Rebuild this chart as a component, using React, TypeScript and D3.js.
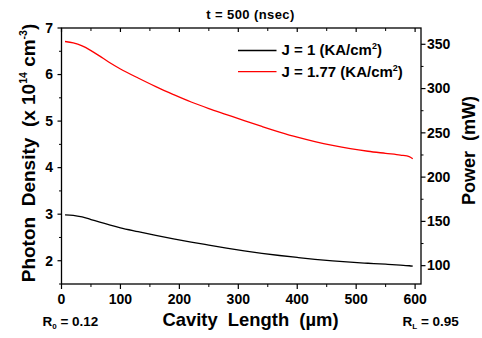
import React from "react";
import * as d3 from "d3";

const cavityLength = [6, 20, 35, 50, 65, 80, 100, 130, 160, 190, 220, 250, 280, 310, 340, 370, 400, 430, 460, 490, 520, 550, 575, 590, 596];
const densityJ1 = [2.985, 2.975, 2.94, 2.885, 2.828, 2.774, 2.707, 2.625, 2.545, 2.47, 2.4, 2.335, 2.272, 2.213, 2.16, 2.112, 2.07, 2.031, 1.997, 1.968, 1.946, 1.926, 1.907, 1.892, 1.882];
const densityJ177 = [6.71, 6.68, 6.615, 6.515, 6.395, 6.27, 6.12, 5.925, 5.74, 5.57, 5.41, 5.27, 5.14, 5.01, 4.885, 4.765, 4.655, 4.56, 4.478, 4.408, 4.352, 4.307, 4.27, 4.238, 4.19];
const xTicks = [0, 100, 200, 300, 400, 500, 600];
const leftTicks = [2, 3, 4, 5, 6, 7];
const rightTicks = [100, 150, 200, 250, 300, 350];

const W = 482, H = 338;
const L = 61.5, R = 421, T = 28, B = 284;
const FONT = "'Liberation Sans', Arial, sans-serif";

export default function App() {
  const x = d3.scaleLinear().domain([0, 610]).range([L, R]);
  const yL = d3.scaleLinear().domain([1.5, 7]).range([B, T]);
  const yR = d3.scaleLinear().domain([79.3, 368.4]).range([B, T]);
  const line = d3.line<[number, number]>().x(d => x(d[0])).y(d => yL(d[1])).curve(d3.curveCatmullRom.alpha(0.5));
  const black = line(cavityLength.map((c, i) => [c, densityJ1[i]]));
  const red = line(cavityLength.map((c, i) => [c, densityJ177[i]]));

  const xMinor = d3.range(50, 601, 100);
  const lMinor = d3.range(1.5, 7.01, 1);
  const rMinor = d3.range(125, 368, 50);

  return (
    <svg width={W} height={H} style={{ position: "absolute", left: 0, top: 0, background: "#fff" }} fontFamily={FONT} fontWeight="bold">
      <rect x={0} y={0} width={W} height={H} fill="#fff" />
      {/* title */}
      <text x={250.5} y={18.5} textAnchor="middle" fontSize={13} letterSpacing={0.4} style={{ whiteSpace: "pre" }}>t = 500 (nsec)</text>
      {/* frame */}
      <rect x={L} y={T} width={R - L} height={B - T} fill="none" stroke="#000" strokeWidth={1.3} />
      {/* bottom / top ticks */}
      {xTicks.map(t => <line key={"xb" + t} x1={x(t)} x2={x(t)} y1={B} y2={B + 5} stroke="#000" strokeWidth={1.2} />)}
      {xMinor.map(t => <line key={"xbm" + t} x1={x(t)} x2={x(t)} y1={B} y2={B + 3} stroke="#000" strokeWidth={1} />)}
      {xTicks.map(t => <line key={"xt" + t} x1={x(t)} x2={x(t)} y1={T} y2={T + 4} stroke="#000" strokeWidth={1.2} />)}
      {xMinor.map(t => <line key={"xtm" + t} x1={x(t)} x2={x(t)} y1={T} y2={T + 3} stroke="#000" strokeWidth={1} />)}
      {xTicks.map(t => <text key={"xl" + t} x={x(t)} y={304} textAnchor="middle" fontSize={14}>{t}</text>)}
      {/* left ticks */}
      {leftTicks.map(t => <line key={"l" + t} x1={L - 4} x2={L} y1={yL(t)} y2={yL(t)} stroke="#000" strokeWidth={1.2} />)}
      {lMinor.map(t => <line key={"lm" + t} x1={L - 2.5} x2={L} y1={yL(t)} y2={yL(t)} stroke="#000" strokeWidth={1} />)}
      {leftTicks.map(t => <text key={"ll" + t} x={53} y={yL(t) + 4.8} textAnchor="end" fontSize={14}>{t}</text>)}
      {/* right ticks */}
      {rightTicks.map(t => <line key={"r" + t} x1={R} x2={R + 4.5} y1={yR(t)} y2={yR(t)} stroke="#000" strokeWidth={1.2} />)}
      {rMinor.map(t => <line key={"rm" + t} x1={R} x2={R + 2.5} y1={yR(t)} y2={yR(t)} stroke="#000" strokeWidth={1} />)}
      {rightTicks.map(t => <text key={"rl" + t} x={427} y={yR(t) + 4.8} textAnchor="start" fontSize={14}>{t}</text>)}
      {/* curves */}
      <path d={black ?? ""} fill="none" stroke="#000" strokeWidth={1.3} />
      <path d={red ?? ""} fill="none" stroke="#ff0000" strokeWidth={1.3} />
      {/* legend */}
      <line x1={238} x2={276.5} y1={50.5} y2={50.5} stroke="#000" strokeWidth={1.3} />
      <text x={281.5} y={55.3} fontSize={15} style={{ whiteSpace: "pre" }}>J = 1 (KA/cm<tspan dy={-6} fontSize={9}>2</tspan><tspan dy={6}>)</tspan></text>
      <line x1={238} x2={276.5} y1={71.7} y2={71.7} stroke="#ff0000" strokeWidth={1.3} />
      <text x={281.5} y={76.5} fontSize={15} style={{ whiteSpace: "pre" }}>J = 1.77 (KA/cm<tspan dy={-6} fontSize={9}>2</tspan><tspan dy={6}>)</tspan></text>
      {/* axis titles */}
      <text x={250.5} y={326} textAnchor="middle" fontSize={18.4} style={{ whiteSpace: "pre" }}>Cavity  Length  (µm)</text>
      <text transform="translate(35,153) rotate(-90)" textAnchor="middle" fontSize={19} style={{ whiteSpace: "pre" }}>
        Photon  Density  (x 10<tspan dy={-8.5} fontSize={10.5}>14</tspan><tspan dy={8.5}> cm</tspan><tspan dy={-8.5} fontSize={10.5}>-3</tspan><tspan dy={8.5}>)</tspan>
      </text>
      <text transform="translate(474.5,150.5) rotate(-90)" textAnchor="middle" fontSize={18} style={{ whiteSpace: "pre" }}>Power  (mW)</text>
      {/* reflectivities */}
      <text x={42.5} y={325.5} fontSize={13.5} style={{ whiteSpace: "pre" }}>R<tspan dy={3.5} fontSize={8}>0</tspan><tspan dy={-3.5}> = 0.12</tspan></text>
      <text x={402.5} y={325.5} fontSize={13.5} style={{ whiteSpace: "pre" }}>R<tspan dy={3.5} fontSize={8}>L</tspan><tspan dy={-3.5}> = 0.95</tspan></text>
    </svg>
  );
}
